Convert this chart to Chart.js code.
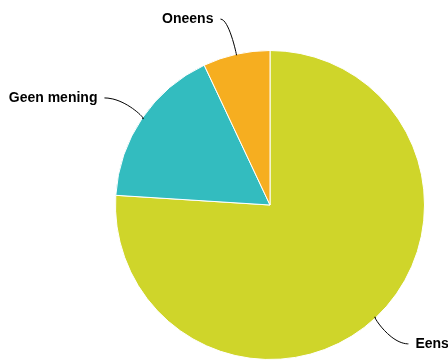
<!DOCTYPE html>
<html>
<head>
<meta charset="utf-8">
<script src="https://cdn.jsdelivr.net/npm/chart.js@4"></script>
<style>
  html, body { margin: 0; padding: 0; background: #fff; }
  #wrap { width: 448px; height: 360px; }
</style>
</head>
<body>
<div id="wrap"><canvas id="pieChart" width="448" height="360"></canvas></div>
<script>
// Data
const labels = ['Eens', 'Geen mening', 'Oneens'];
const values = [76, 17, 7];
const colors = ['#cfd52a', '#33bcbf', '#f6ae20'];

// Outside labels with curved connectors
const outsideLabels = {
    id: 'outsideLabels',
    afterDraw(chart) {
        const ctx = chart.ctx;
        const meta = chart.getDatasetMeta(0);
        ctx.save();
        ctx.font = 'bold 14px "Liberation Sans", Arial, sans-serif';
        ctx.textBaseline = 'middle';
        meta.data.forEach((arc, i) => {
            const p = arc.getProps(['x', 'y', 'startAngle', 'endAngle', 'outerRadius'], true);
            const mid = (p.startAngle + p.endAngle) / 2;
            const cos = Math.cos(mid), sin = Math.sin(mid);
            const ex = p.x + cos * p.outerRadius;
            const ey = p.y + sin * p.outerRadius;
            const r2 = p.outerRadius + 36;
            const right = cos >= 0;
            const ax = p.x + cos * r2 + (right ? 8 : -8);
            const ay = p.y + sin * r2;

            ctx.strokeStyle = '#000';
            ctx.lineWidth = 1;
            ctx.beginPath();
            ctx.moveTo(ax, ay);
            const cx = ax + (ex - ax) * 0.6;
            ctx.bezierCurveTo(cx, ay, ex - cos * 8, ey - sin * 8, ex, ey);
            ctx.stroke();

            ctx.fillStyle = '#000';
            ctx.textAlign = right ? 'left' : 'right';
            ctx.fillText(labels[i], ax + (right ? 7 : -7), ay);
        });
        ctx.restore();
    }
};

new Chart(document.getElementById('pieChart'), {
    type: 'pie',
    data: {
        labels: labels,
        datasets: [{
            data: values,
            backgroundColor: colors,
            borderColor: '#ffffff',
            borderWidth: 1
        }]
    },
    options: {
        responsive: false,
        animation: false,
        layout: { padding: { top: 50, bottom: 0, left: 115, right: 23 } },
        plugins: {
            legend: { display: false },
            tooltip: { enabled: false }
        }
    },
    plugins: [outsideLabels]
});
</script>
</body>
</html>
